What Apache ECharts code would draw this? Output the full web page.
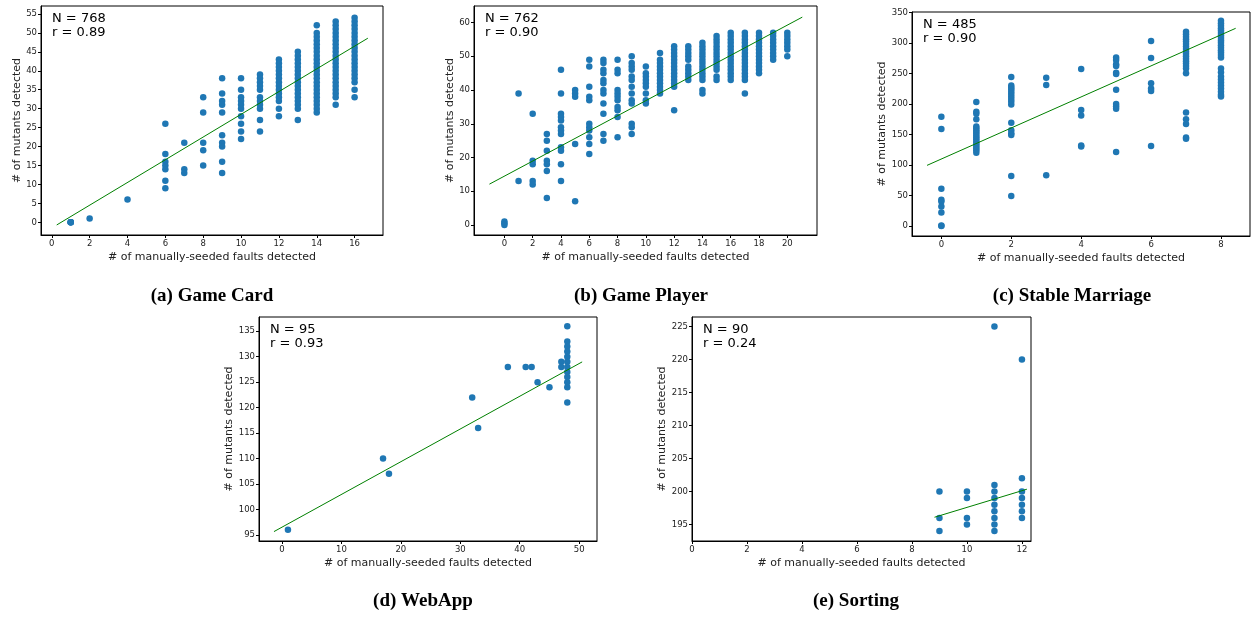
<!DOCTYPE html>
<html>
<head>
<meta charset="utf-8">
<script src="https://cdn.jsdelivr.net/npm/echarts@6/dist/echarts.min.js"></script>
<style>
  html, body { margin: 0; padding: 0; background: #fff; }
  #main { width: 1254px; height: 617px; }
</style>
</head>
<body>
<div id="main"></div>
<script>
// (a) Game Card
var cardX = [1, 2, 4, 6, 7, 8, 9, 10, 11, 12, 13, 14, 15, 16];
var cardY = [
  [0, 0, 0, 0],
  [1],
  [6],
  [26, 18, 16, 15, 14, 11, 9],
  [21, 14, 13],
  [33, 29, 21, 19, 15],
  [38, 34, 32, 31, 29, 23, 21, 20, 16, 13],
  [38, 35, 33, 32, 31, 30, 28, 26, 24, 22],
  [39, 38, 37, 36, 35, 33, 32, 31, 30, 27, 24],
  [43, 42, 41, 40, 39, 38, 37, 36, 35, 34, 33, 32, 30, 28],
  [45, 44, 43, 42, 41, 40, 39, 38, 37, 36, 35, 34, 33, 32, 31, 30, 27],
  [52, 50, 49, 48, 47, 46, 45, 44, 43, 42, 41, 40, 39, 38, 37, 36, 35, 34, 33, 32, 31, 30, 29],
  [53, 52, 51, 50, 49, 48, 47, 46, 45, 44, 43, 42, 41, 40, 39, 38, 37, 36, 35, 34, 33, 31],
  [54, 53, 52, 51, 50, 49, 48, 47, 46, 45, 44, 43, 42, 41, 40, 39, 38, 37, 35, 33]
];
var cardFitX = [0.26, 16.7];
var cardFitY = [-0.7, 48.6];

// (b) Game Player
var playerX = [0, 1, 2, 3, 4, 5, 6, 7, 8, 9, 10, 11, 12, 13, 14, 15, 16, 17, 18, 19, 20];
var playerY = [
  [1, 0.5, 0],
  [39, 13],
  [33, 19, 18, 13, 12],
  [27, 25, 22, 19, 18, 16, 8],
  [46, 39, 33, 32, 31, 29, 28, 27, 23, 22, 18, 13],
  [40, 39, 38, 24, 7],
  [49, 47, 41, 38, 37, 30, 29, 28, 26, 24, 21],
  [49, 48, 46, 45, 43, 42, 40, 39, 36, 33, 27, 25],
  [49, 46, 45, 40, 39, 38, 37, 35, 34, 32, 26],
  [50, 48, 47, 46, 44, 43, 41, 39, 37, 36, 30, 29, 27],
  [47, 45, 44, 43, 42, 41, 39, 37, 36],
  [51, 49, 48, 47, 46, 45, 44, 43, 42, 41, 40, 39],
  [53, 52, 51, 50, 49, 48, 47, 46, 45, 44, 43, 42, 41, 34],
  [53, 52, 51, 50, 49, 47, 46, 45, 44, 43],
  [54, 53, 52, 51, 50, 49, 48, 47, 46, 45, 44, 43, 40, 39],
  [56, 55, 54, 53, 52, 51, 50, 49, 48, 47, 46, 44, 43],
  [57, 56, 55, 54, 53, 52, 51, 50, 49, 48, 47, 46, 45, 44, 43],
  [57, 56, 55, 54, 53, 52, 51, 50, 49, 48, 47, 46, 45, 44, 43, 39],
  [57, 56, 55, 54, 53, 52, 51, 50, 49, 48, 47, 46, 45],
  [57, 56, 55, 54, 53, 52, 51, 50, 49],
  [57, 56, 55, 54, 53, 52, 50]
];
var playerFitX = [-1.06, 21.06];
var playerFitY = [12.1, 61.6];

// (c) Stable Marriage
var marriageX = [0, 1, 2, 3, 4, 5, 6, 7, 8];
var marriageY = [
  [179, 159, 61, 43, 40, 32, 22, 1, 0],
  [203, 187, 184, 175, 163, 160, 157, 154, 151, 148, 145, 142, 139, 136, 133, 130, 127, 124, 120],
  [244, 230, 227, 224, 220, 216, 212, 208, 204, 199, 169, 157, 152, 149, 82, 49],
  [243, 231, 83],
  [257, 190, 181, 132, 130],
  [276, 272, 265, 262, 251, 249, 223, 200, 196, 192, 121],
  [303, 275, 234, 225, 221, 131],
  [318, 314, 310, 306, 302, 298, 294, 290, 286, 282, 278, 274, 270, 266, 262, 258, 250, 186, 175, 167, 145, 143],
  [336, 332, 328, 324, 320, 316, 312, 308, 304, 300, 296, 292, 288, 284, 280, 276, 258, 252, 245, 240, 235, 230, 225, 220, 215, 212]
];
var marriageFitX = [-0.41, 8.42];
var marriageFitY = [99.3, 323.8];

// (d) WebApp
var webX = [1, 17, 18, 32, 33, 38, 41, 42, 43, 45, 47, 48];
var webY = [
  [96],
  [110],
  [107],
  [122],
  [116],
  [128],
  [128],
  [128],
  [125],
  [124],
  [129, 128],
  [136, 133, 132, 131, 130, 129, 128, 127, 126, 125, 124, 121]
];
var webFitX = [-1.35, 50.5];
var webFitY = [95.65, 128.98];

// (e) Sorting
var sortX = [9, 10, 11, 12];
var sortY = [
  [200, 196, 194],
  [200, 199, 196, 195],
  [225, 201, 200, 199, 198, 197, 196, 195, 194],
  [220, 202, 200, 199, 198, 197, 196]
];
var sortFitX = [8.82, 12.18];
var sortFitY = [196.1, 200.35];

// tick labels
var cardXTicks = [0, 2, 4, 6, 8, 10, 12, 14, 16];
var cardYTicks = [0, 5, 10, 15, 20, 25, 30, 35, 40, 45, 50, 55];
var playerXTicks = [0, 2, 4, 6, 8, 10, 12, 14, 16, 18, 20];
var playerYTicks = [0, 10, 20, 30, 40, 50, 60];
var marriageXTicks = [0, 2, 4, 6, 8];
var marriageYTicks = [0, 50, 100, 150, 200, 250, 300, 350];
var webXTicks = [0, 10, 20, 30, 40, 50];
var webYTicks = [95, 100, 105, 110, 115, 120, 125, 130, 135];
var sortXTicks = [0, 2, 4, 6, 8, 10, 12];
var sortYTicks = [195, 200, 205, 210, 215, 220, 225];

var panels = [
  { x: cardX, y: cardY, fx: cardFitX, fy: cardFitY, xt: cardXTicks, yt: cardYTicks,
    xr: [-0.57, 17.5], yr: [-3.35, 57.1], grid: [41, 6, 342, 229], yGap: 17, n: 'N = 768', r: 'r = 0.89',
    cap: '(a) Game Card', capPos: [212, 296] },
  { x: playerX, y: playerY, fx: playerFitX, fy: playerFitY, xt: playerXTicks, yt: playerYTicks,
    xr: [-2.15, 22.1], yr: [-2.97, 64.9], grid: [474, 6, 343, 229], yGap: 17, n: 'N = 762', r: 'r = 0.90',
    cap: '(b) Game Player', capPos: [641, 296] },
  { x: marriageX, y: marriageY, fx: marriageFitX, fy: marriageFitY, xt: marriageXTicks, yt: marriageYTicks,
    xr: [-0.84, 8.83], yr: [-16.4, 350.5], grid: [912, 12, 338, 224], yGap: 22, n: 'N = 485', r: 'r = 0.90',
    cap: '(c) Stable Marriage', capPos: [1072, 296] },
  { x: webX, y: webY, fx: webFitX, fy: webFitY, xt: webXTicks, yt: webYTicks,
    xr: [-3.87, 53.0], yr: [93.8, 137.8], grid: [259, 317, 338, 224], yGap: 22, n: 'N = 95', r: 'r = 0.93',
    cap: '(d) WebApp', capPos: [423, 601] },
  { x: sortX, y: sortY, fx: sortFitX, fy: sortFitY, xt: sortXTicks, yt: sortYTicks,
    xr: [0, 12.33], yr: [192.5, 226.45], grid: [692, 317, 339, 224], yGap: 22, n: 'N = 90', r: 'r = 0.24',
    cap: '(e) Sorting', capPos: [856, 601] }
];

var grids = [], xAxes = [], yAxes = [], series = [], graphics = [];
var tickFont = { fontFamily: 'DejaVu Sans', fontSize: 8.5, color: '#222' };
var nameFont = { fontFamily: 'DejaVu Sans', fontSize: 11, color: '#222' };

panels.forEach(function (p, i) {
  grids.push({
    left: p.grid[0], top: p.grid[1], width: p.grid[2], height: p.grid[3],
    show: true, borderColor: '#000', borderWidth: 1, containLabel: false
  });
  xAxes.push({
    type: 'value', gridIndex: i, min: p.xr[0], max: p.xr[1],
    name: '# of manually-seeded faults detected', nameLocation: 'middle', nameGap: 17,
    nameTextStyle: nameFont,
    axisLine: { show: true, onZero: false, lineStyle: { color: '#000', width: 1 } },
    axisTick: { show: true, length: 3, customValues: p.xt, lineStyle: { color: '#000' } },
    axisLabel: Object.assign({ margin: 4, customValues: p.xt }, tickFont),
    splitLine: { show: false }
  });
  yAxes.push({
    type: 'value', gridIndex: i, min: p.yr[0], max: p.yr[1],
    name: '# of mutants detected', nameLocation: 'middle', nameGap: p.yGap,
    nameTextStyle: nameFont,
    axisLine: { show: true, onZero: false, lineStyle: { color: '#000', width: 1 } },
    axisTick: { show: true, length: 3, customValues: p.yt, lineStyle: { color: '#000' } },
    axisLabel: Object.assign({ margin: 4, customValues: p.yt }, tickFont),
    splitLine: { show: false }
  });
  var pts = [];
  p.x.forEach(function (xv, k) {
    p.y[k].forEach(function (yv) { pts.push([xv, yv]); });
  });
  series.push({
    type: 'scatter', xAxisIndex: i, yAxisIndex: i, data: pts,
    symbolSize: 6.5, itemStyle: { color: '#1f77b4', opacity: 1 }, silent: true
  });
  series.push({
    type: 'line', xAxisIndex: i, yAxisIndex: i,
    data: [[p.fx[0], p.fy[0]], [p.fx[1], p.fy[1]]],
    symbol: 'none', lineStyle: { color: '#008000', width: 1 }, silent: true
  });
  graphics.push({
    type: 'text', left: p.grid[0] + 11, top: p.grid[1] + 6,
    style: { text: p.n + '\n' + p.r, font: '13px "DejaVu Sans"', fill: '#000', lineHeight: 14 }
  });
  graphics.push({
    type: 'text', x: p.capPos[0], y: p.capPos[1],
    style: { text: p.cap, font: 'bold 19px "Liberation Serif"', fill: '#000',
      textAlign: 'center', textVerticalAlign: 'middle' }
  });
});

var myChart = echarts.init(document.getElementById('main'), null, { renderer: 'canvas' });
myChart.setOption({
  animation: false,
  backgroundColor: '#fff',
  grid: grids,
  xAxis: xAxes,
  yAxis: yAxes,
  series: series,
  graphic: graphics
});
</script>
</body>
</html>
